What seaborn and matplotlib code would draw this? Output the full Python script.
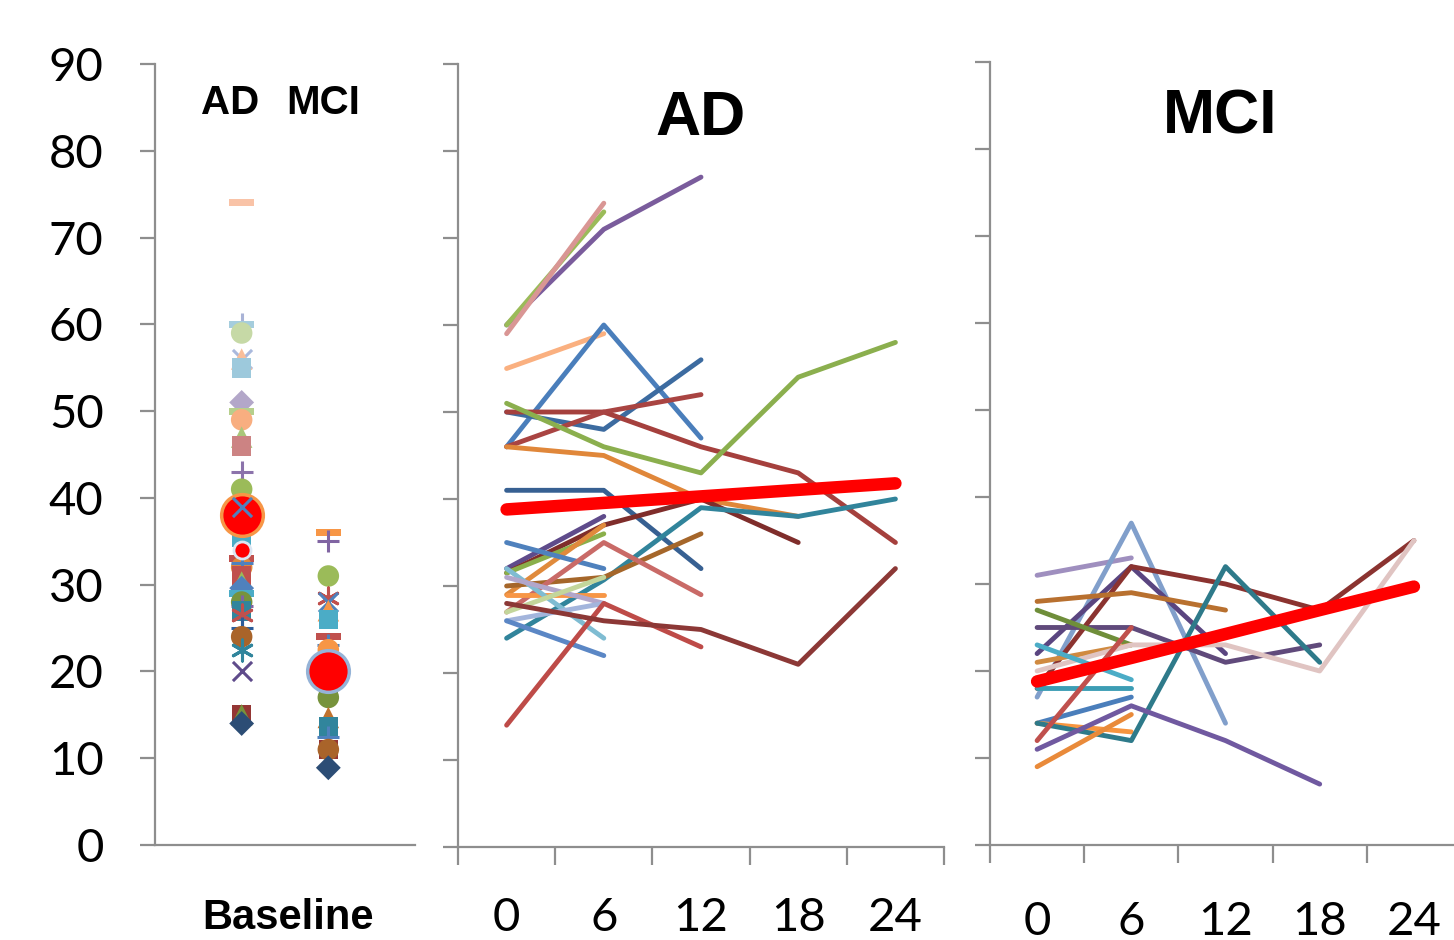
import matplotlib
matplotlib.use("Agg")
import matplotlib.pyplot as plt
import seaborn as sns
import pandas as pd

# ---------------- data ----------------
# Baseline scatter (AD at x=1, MCI at x=2)
base_ad_values = [74, 60, 60, 59, 56, 56, 55, 51, 50, 49, 47, 46, 43, 41, 35.5, 33, 32,
                  32.5, 31, 30.3, 29.6, 29, 28, 27.5, 27, 26.5, 25, 24, 22.5, 20, 15, 15, 14]
base_ad_markers = ["dash", "+", "dash", "o", "x", "^", "s", "D", "dash", "o", "^", "s", "+", "o", "s", "dash", "o",
                   "+", "s", "^", "D", "dash", "o", "+", "s", "ast", "+", "o", "ast", "x", "s", "^", "D"]
base_ad_colors = ["#F9C3A7", "#A9B3D6", "#A5CDDD", "#C6D9A6", "#A9B9DD", "#F9BE9A", "#9DC9DC", "#B3A7C9",
                  "#B6CF8C", "#F8AE80", "#A9C77A", "#CC8383", "#8C73AB", "#9BBB59", "#4BACC6", "#C0504D",
                  "#E0883B", "#4F81BD", "#C0504D", "#9BBB59", "#4F81BD", "#4BACC6", "#77933C", "#8064A2",
                  "#31859C", "#C0504D", "#2C5D9A", "#A9642A", "#31859C", "#5F4B8B", "#943634", "#77933C",
                  "#2C4D75"]
base_ad_mean = 38
base_ad_small = 34
base_ad_top_x = 39  # blue cross drawn over the mean marker

base_mci_values = [36, 35, 31, 28.5, 28, 27, 26, 24, 23, 22.5, 18.7, 17, 14.7, 13.6, 12.4, 11, 11, 8.9]
base_mci_markers = ["dash", "+", "o", "ast", "x", "^", "s", "dash", "+", "o", "s", "o", "^", "s", "+", "s", "o", "D"]
base_mci_colors = ["#F79646", "#8064A2", "#9BBB59", "#C0504D", "#4F81BD", "#F79646", "#4BACC6", "#C0504D",
                   "#4F81BD", "#F79646", "#31859C", "#77933C", "#C0722E", "#31859C", "#4F81BD", "#943634",
                   "#A9642A", "#2C4D75"]
base_mci_mean = 20

months = [0, 6, 12, 18, 24]

ad_lines = [
    [60, 71, 77], [60, 73], [59, 74], [55, 59], [46, 60, 47], [50, 48, 56],
    [50, 50, 46, 43, 35], [46, 50, 52], [51, 46, 43, 54, 58], [46, 45, 40, 38],
    [41, 41, 32], [32, 38], [31.5, 37, 40, 35], [31.5, 36], [29, 37], [35, 32],
    [24, 30.7, 39, 38, 40], [30, 31, 36], [27, 35, 29], [29, 29], [32, 24],
    [31, 28], [27, 31], [26, 28], [26, 22], [14, 28, 23], [28, 26, 25, 21, 32],
]
ad_colors = [
    "#7A5C9C", "#9BBB59", "#D99694", "#FAB080", "#4A7EBB", "#3C6BA0",
    "#A5403D", "#A94442", "#8BAF4E", "#E0873A",
    "#376092", "#5F4B8B", "#7F2D2B", "#8AAF4A", "#E08A3C", "#4F81BD",
    "#31849B", "#A5662A", "#C96A67", "#F79646", "#7FBCD2",
    "#B2A6CA", "#C3D69B", "#A3B5DC", "#5B87C5", "#BE4B48", "#8C3836",
]
ad_mean = [38.8, 39.55, 40.3, 41.05, 41.8]

mci_lines = [
    [31, 33], [17, 37, 14], [22, 32, 22], [25, 25, 21, 23], [18, 32, 30, 27, 35],
    [28, 29, 27], [27, 23], [21, 23], [20, 23, 23, 20, 35], [23, 19], [18, 18],
    [14, 17], [14, 13], [14, 12, 32, 21], [11, 16, 12, 7], [9, 15], [12, 25],
]
mci_colors = [
    "#9F8FBF", "#819FCB", "#5A4580", "#604A7B", "#8B3330",
    "#B8702F", "#6F8E3A", "#D08A40", "#E0C4C2", "#4BACC6", "#3C9DB4",
    "#4A7EBB", "#F7953F", "#2E7A8A", "#7059A0", "#E98A3A", "#C0504D",
]
mci_mean = [18.8, 21.5, 24.25, 27.0, 29.7]

y_ticks = [0, 10, 20, 30, 40, 50, 60, 70, 80, 90]

# ---------------- style ----------------
sns.set_style("white")
plt.rcParams["font.family"] = ["Lato", "DejaVu Sans"]
plt.rcParams["text.color"] = "black"
plt.rcParams["xtick.labelcolor"] = "black"
plt.rcParams["ytick.labelcolor"] = "black"
AX_GRAY = "#8E8E8E"
BOLD = ["Liberation Sans", "DejaVu Sans"]

W, H = 1454, 940
fig = plt.figure(figsize=(W / 100, H / 100), dpi=100)

def px_axes(left, right, bottom, top):
    return fig.add_axes([left / W, (H - bottom) / H, (right - left) / W, (bottom - top) / H])

def style_axes(ax):
    for s in ["top", "right"]:
        ax.spines[s].set_visible(False)
    for s in ["left", "bottom"]:
        ax.spines[s].set_color(AX_GRAY)
        ax.spines[s].set_linewidth(1.6)
    ax.set_ylim(0, 90)
    ax.set_yticks(y_ticks)
    ax.grid(False)

DASH = [(-1, -0.28), (1, -0.28), (1, 0.28), (-1, 0.28)]
MARKERS = {"dash": (DASH, 330, 0), "+": ("+", 260, 2.2), "x": ("x", 190, 2.2),
           "ast": ((6, 2, 0), 230, 2.2), "o": ("o", 240, 0), "s": ("s", 200, 0),
           "^": ("^", 240, 0), "D": ("D", 160, 0)}

def draw_point(ax, x, y, kind, color):
    m, s, lw = MARKERS[kind]
    if kind in ("+", "x", "ast"):
        sns.scatterplot(x=[x], y=[y], marker=m, s=s, color=color, linewidth=lw, ax=ax, legend=False)
    else:
        sns.scatterplot(x=[x], y=[y], marker=m, s=s, color=color, edgecolor="none", linewidth=0,
                        ax=ax, legend=False)

# ---------------- panel 1: baseline ----------------
ax1 = px_axes(155, 415, 845, 64)
style_axes(ax1)
ax1.set_xlim(0, 3)
ax1.set_xticks([])
ax1.tick_params(axis="y", direction="out", length=11, width=1.6, color=AX_GRAY,
                labelsize=34, pad=26, left=True, labelcolor="black")
for v, m, c in zip(base_ad_values, base_ad_markers, base_ad_colors):
    draw_point(ax1, 1, v, m, c)
sns.scatterplot(x=[1], y=[base_ad_mean], s=900, color="#FF0000", edgecolor="#F79646", linewidth=2.5,
                ax=ax1, legend=False)
sns.scatterplot(x=[1], y=[base_ad_top_x], marker="x", s=190, color="#4F81BD", linewidth=2.2, ax=ax1, legend=False)
sns.scatterplot(x=[1], y=[base_ad_small], s=150, color="#FF0000", edgecolor="#DCE6F2", linewidth=2,
                ax=ax1, legend=False)
for v, m, c in zip(base_mci_values, base_mci_markers, base_mci_colors):
    draw_point(ax1, 2, v, m, c)
sns.scatterplot(x=[2], y=[base_mci_mean], s=900, color="#FF0000", edgecolor="#95B3D7", linewidth=2.5,
                ax=ax1, legend=False)
ax1.text(0.87, 85.5, "AD", fontsize=29, fontweight="bold", family=BOLD, ha="center", va="center", color="black")
ax1.text(1.94, 85.5, "MCI", fontsize=29, fontweight="bold", family=BOLD, ha="center", va="center", color="black")
ax1.set_xlabel("")
ax1.set_ylabel("")
ax1.text(0.51, -0.094, "Baseline", transform=ax1.transAxes, fontsize=30, fontweight="bold",
         family=BOLD, ha="center", va="center", color="black")

# ---------------- panels 2 & 3: trajectories ----------------
def trajectory_panel(ax, lines, colors, mean, title, title_x, label_pad):
    style_axes(ax)
    ax.set_xlim(-3, 27)
    ax.set_xticks([-3, 3, 9, 15, 21, 27])
    ax.set_xticklabels([])
    ax.set_xticks(months, minor=True)
    ax.set_xticklabels([str(m) for m in months], minor=True)
    ax.tick_params(axis="x", which="major", direction="out", length=13, width=1.6, color=AX_GRAY, bottom=True)
    ax.tick_params(axis="x", which="minor", length=0, labelsize=34, pad=label_pad, bottom=True,
                   labelcolor="black")
    ax.tick_params(axis="y", direction="out", length=11, width=1.6, color=AX_GRAY, labelleft=False, left=True)
    for vals, c in zip(lines, colors):
        df = pd.DataFrame({"month": months[:len(vals)], "score": vals})
        sns.lineplot(data=df, x="month", y="score", color=c, linewidth=3.5, ax=ax, sort=False,
                     solid_capstyle="round", solid_joinstyle="round", legend=False)
    dfm = pd.DataFrame({"month": months, "score": mean})
    sns.lineplot(data=dfm, x="month", y="score", color="#FF0000", linewidth=9, ax=ax,
                 solid_capstyle="round", legend=False)
    ax.set_xlabel("")
    ax.set_ylabel("")
    ax.text(title_x, 0.93, title, transform=ax.transAxes, fontsize=45, fontweight="bold",
            family=BOLD, ha="center", va="center", color="black")

ax2 = px_axes(458, 944, 847, 64)
trajectory_panel(ax2, ad_lines, ad_colors, ad_mean, "AD", 0.50, 36)

ax3 = px_axes(990, 1461, 845, 62)
trajectory_panel(ax3, mci_lines, mci_colors, mci_mean, "MCI", 0.488, 40)

fig.savefig("out.png", dpi=100)
